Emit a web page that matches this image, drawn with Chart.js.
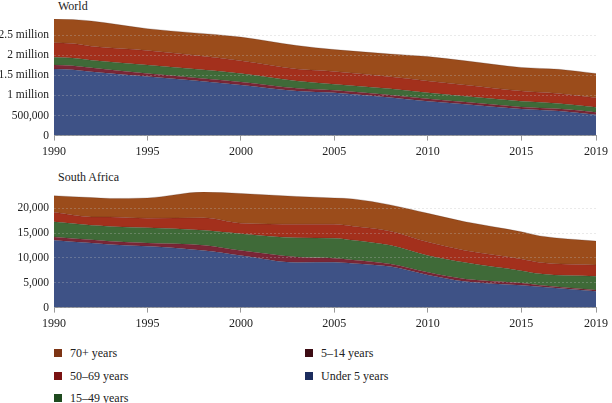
<!DOCTYPE html>
<html>
<head>
<meta charset="utf-8">
<script src="https://cdn.jsdelivr.net/npm/chart.js@4"></script>
<style>
  html, body { margin: 0; padding: 0; background: #fff; }
  body { width: 612px; height: 403px; position: relative; overflow: hidden; font-family: "Liberation Serif", "DejaVu Serif", serif; color: #222; }
  .cv { position: absolute; left: 0; width: 612px; }
  .title { position: absolute; left: 58px; font-size: 12px; line-height: 12px; }
  .leg { position: absolute; font-size: 12px; line-height: 12px; display: flex; align-items: center; }
  .leg span.box { display: inline-block; width: 8px; height: 8px; margin-right: 8px; }
</style>
</head>
<body>
<div class="title" style="top:0px;">World</div>
<div class="title" style="top:171px;">South Africa</div>
<div class="cv" style="top:0px;height:163px;"><canvas id="c1"></canvas></div>
<div class="cv" style="top:170px;height:165px;"><canvas id="c2"></canvas></div>
<div id="legend"></div>
<script>
// Key years where values were read; each series listed per year
const worldYears   = [1990, 1991, 1992, 1995, 2000, 2003, 2005, 2008, 2010, 2012, 2015, 2017, 2019];
const worldUnder5  = [1655000, 1640000, 1590000, 1470000, 1260000, 1108000, 1066000, 950000, 856000, 780000, 662000, 610000, 520000];
const world5to14   = [100000, 98000, 95000, 74000, 75000, 68000, 60000, 60000, 58000, 53000, 51000, 55000, 60000];
const world15to49  = [195000, 190000, 190000, 211000, 209000, 184000, 151000, 155000, 152000, 148000, 143000, 135000, 125000];
const world50to69  = [360000, 360000, 345000, 361000, 320000, 295000, 318000, 300000, 294000, 280000, 252000, 245000, 235000];
const world70plus  = [590000, 600000, 630000, 544000, 586000, 585000, 545000, 565000, 605000, 600000, 587000, 605000, 604000];

const saYears   = [1990, 1992, 1993, 1995, 1998, 2000, 2003, 2005, 2006, 2008, 2010, 2012, 2015, 2016, 2019];
const saUnder5  = [13570, 13000, 12700, 12350, 11500, 10500, 9100, 9150, 8900, 8270, 6570, 5270, 4500, 4200, 3300];
const sa5to14   = [680, 680, 660, 650, 1050, 1000, 1100, 810, 700, 530, 530, 480, 440, 300, 270];
const sa15to49  = [3050, 2900, 3000, 3100, 3050, 3400, 3900, 4040, 4000, 3750, 3400, 3350, 2510, 2300, 2730];
const sa50to69  = [1900, 1700, 1900, 1900, 2500, 2100, 2700, 2800, 2800, 2850, 2700, 2400, 2350, 2300, 2300];
const sa70plus  = [3350, 3900, 3740, 4100, 5200, 6000, 5600, 5300, 5500, 5300, 5800, 5800, 5500, 5350, 4800];

const seriesLabels = ["Under 5 years", "5\u201314 years", "15\u201349 years", "50\u201369 years", "70+ years"];
const areaColors   = ["#3e5286", "#7a2636", "#3f6a38", "#a3301c", "#9b4c1b"];
const legendColors = ["#1c2d5e", "#3d0c14", "#1f4a1f", "#7a1212", "#7d3414"];

const yTicksWorld = [0, 500000, 1000000, 1500000, 2000000, 2500000];
const yLabelsWorld = ["0", "500,000", "1 million", "1.5 million", "2 million", "2.5 million"];
const yTicksSA = [0, 5000, 10000, 15000, 20000];
const yLabelsSA = ["0", "5,000", "10,000", "15,000", "20,000"];
const xTicks = [1990, 1995, 2000, 2005, 2010, 2015, 2019];

const xFont = { family: "'Liberation Serif', 'DejaVu Serif', serif", size: 12 };
const yFont = { family: "'Liberation Serif', 'DejaVu Serif', serif", size: 11.5 };

function makeChart(id, xs, series, yMax, yTicks, yLabels, padTop) {
  const datasets = series.map((vals, i) => ({
    label: seriesLabels[i],
    data: xs.map((x, j) => ({ x: x, y: vals[j] })),
    backgroundColor: areaColors[i],
    borderColor: 'rgba(60,30,30,0.35)',
    borderWidth: 0.6,
    pointRadius: 0,
    cubicInterpolationMode: 'monotone',
    fill: i === 0 ? 'origin' : '-1'
  }));
  return new Chart(document.getElementById(id), {
    type: 'line',
    data: { datasets },
    options: {
      responsive: true,
      maintainAspectRatio: false,
      animation: false,
      events: [],
      layout: { padding: { top: padTop, right: 3, left: 0, bottom: 0 } },
      plugins: { legend: { display: false }, tooltip: { enabled: false } },
      scales: {
        x: {
          type: 'linear', min: 1990, max: 2019,
          afterBuildTicks: s => { s.ticks = xTicks.map(v => ({ value: v })); },
          ticks: { font: xFont, color: '#222', padding: 4, maxRotation: 0, autoSkip: false, callback: v => String(v) },
          grid: { drawOnChartArea: false, drawTicks: true, tickLength: 5, color: '#999' },
          border: { display: true, color: '#999' }
        },
        y: {
          stacked: true, min: 0, max: yMax,
          afterBuildTicks: s => { s.ticks = yTicks.map(v => ({ value: v })); },
          afterFit: s => { s.width = 54; },
          ticks: { font: yFont, color: '#222', padding: 5, callback: v => yLabels[yTicks.indexOf(v)] },
          grid: { z: 1, color: 'rgba(190,190,190,0.4)', drawTicks: false, lineWidth: 0.8 },
          border: { display: false, dash: [2, 2] }
        }
      }
    }
  });
}

makeChart('c1', worldYears, [worldUnder5, world5to14, world15to49, world50to69, world70plus], 2900000, yTicksWorld, yLabelsWorld, 19);
makeChart('c2', saYears, [saUnder5, sa5to14, sa15to49, sa50to69, sa70plus], 23300, yTicksSA, yLabelsSA, 22);

// legend (column-major, as in reference)
const legendItems = [
  { i: 4, left: 54, top: 347 },
  { i: 3, left: 54, top: 370 },
  { i: 2, left: 54, top: 392 },
  { i: 1, left: 305, top: 347 },
  { i: 0, left: 305, top: 370 }
];
const legEl = document.getElementById('legend');
legendItems.forEach(it => {
  const d = document.createElement('div');
  d.className = 'leg';
  d.style.left = it.left + 'px';
  d.style.top = it.top + 'px';
  const b = document.createElement('span');
  b.className = 'box';
  b.style.background = legendColors[it.i];
  d.appendChild(b);
  d.appendChild(document.createTextNode(seriesLabels[it.i]));
  legEl.appendChild(d);
});
</script>
</body>
</html>
